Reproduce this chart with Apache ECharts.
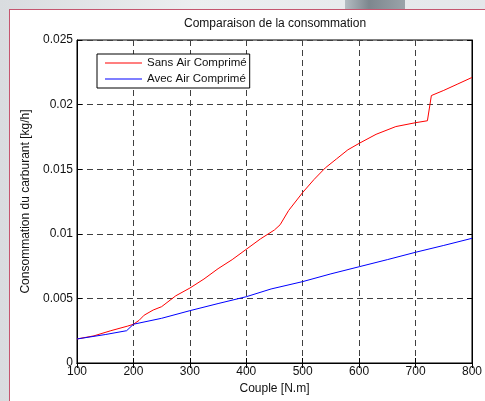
<!DOCTYPE html>
<html>
<head>
<meta charset="utf-8">
<script src="https://cdn.jsdelivr.net/npm/echarts@6/dist/echarts.min.js"></script>
<style>
html, body {
	margin: 0;
	padding: 0;
	width: 485px;
	height: 401px;
	overflow: hidden;
	background: linear-gradient(90deg, #d9dcdf 0%, #eceef0 40%, #e4e7ea 100%);
	position: relative;
}
.band {
	position: absolute;
	left: 345px;
	top: 0;
	width: 60px;
	height: 10px;
	background: linear-gradient(90deg, #b4bcc2, #7d878e 40%, #9aa3a9);
}
.fig {
	position: absolute;
	left: 9px;
	top: 9px;
	right: -2px;
	bottom: -2px;
	background: #fff;
	border: 1px solid #c4566f;
}
#chart {
	position: absolute;
	left: 0;
	top: 0;
	width: 485px;
	height: 401px;
}
</style>
</head>
<body>
<div class="band"></div>
<div class="fig"></div>
<div id="chart"></div>
<script>
// couple [N.m] / consommation [kg/h]
const sansTorque = [100, 130, 160, 190, 200, 210, 219, 235, 250, 275, 300, 325, 350, 375, 400, 425, 450, 460, 475, 500, 520, 540, 560, 580, 600, 630, 665, 700, 721, 728, 750, 775, 800];
const sansConso = [0.00186, 0.0021, 0.0025, 0.00286, 0.0030, 0.0033, 0.0037, 0.0041, 0.00436, 0.0052, 0.0058, 0.0065, 0.0073, 0.0080, 0.0088, 0.0096, 0.0103, 0.0107, 0.0118, 0.0132, 0.0142, 0.0151, 0.0158, 0.0165, 0.0170, 0.0177, 0.0183, 0.0186, 0.01875, 0.0207, 0.0211, 0.0216, 0.0221];

const avecTorque = [100, 150, 188, 200, 250, 300, 350, 400, 444, 500, 550, 600, 650, 700, 750, 800];
const avecConso = [0.00186, 0.0022, 0.0025, 0.0030, 0.00346, 0.00405, 0.0046, 0.00513, 0.00573, 0.0063, 0.0069, 0.00745, 0.0080, 0.00857, 0.0091, 0.00965];

const seriesNames = ['Sans Air Comprimé', 'Avec Air Comprimé'];
const FONT = '"Liberation Sans", Arial, sans-serif';

const zip = (xs, ys) => xs.map((x, i) => [x, ys[i]]);

const chart = echarts.init(document.getElementById('chart'));

const gridLine = {
	show: true,
	lineStyle: {
		color: '#404040',
		width: 1,
		type: [6, 4]
	}
};

const option = {
	animation: false,
	backgroundColor: 'transparent',
	textStyle: {fontFamily: FONT},
	title: {
		text: 'Comparaison de la consommation',
		left: 184,
		top: 18,
		padding: 0,
		textStyle: {
			fontFamily: FONT,
			fontSize: 12,
			fontWeight: 'normal',
			color: '#111'
		}
	},
	legend: {
		data: seriesNames,
		orient: 'vertical',
		left: 97,
		top: 54,
		padding: [3, 3, 3, 8],
		itemGap: 4,
		itemWidth: 37,
		itemHeight: 1,
		icon: 'rect',
		borderColor: '#000',
		borderWidth: 1,
		backgroundColor: '#fff',
		textStyle: {
			fontFamily: FONT,
			fontSize: 11.5,
			color: '#111'
		}
	},
	grid: {
		left: 77,
		right: 9,
		top: 40,
		bottom: 38,
		show: true,
		backgroundColor: '#fff',
		borderColor: '#000',
		borderWidth: 1
	},
	xAxis: [{
		type: 'value',
		min: 100,
		max: 800,
		interval: 100,
		name: 'Couple [N.m]',
		nameLocation: 'middle',
		nameGap: 20,
		nameTextStyle: {fontFamily: FONT, fontSize: 12, color: '#111'},
		axisLine: {lineStyle: {color: '#000'}},
		axisTick: {inside: true, length: 5, lineStyle: {color: '#000'}},
		axisLabel: {margin: 3, fontFamily: FONT, fontSize: 12, color: '#111'},
		splitLine: gridLine
	}, {
		type: 'value',
		position: 'top',
		min: 100,
		max: 800,
		interval: 100,
		axisLine: {lineStyle: {color: '#000'}},
		axisTick: {inside: true, length: 5, lineStyle: {color: '#000'}},
		axisLabel: {show: false},
		splitLine: {show: false}
	}],
	yAxis: [{
		type: 'value',
		min: 0,
		max: 0.025,
		interval: 0.005,
		name: 'Consommation du carburant [kg/h]',
		nameLocation: 'middle',
		nameGap: 41,
		nameTextStyle: {fontFamily: FONT, fontSize: 12, color: '#111'},
		axisLine: {show: true, lineStyle: {color: '#000'}},
		axisTick: {show: true, inside: true, length: 5, lineStyle: {color: '#000'}},
		axisLabel: {margin: 4, fontFamily: FONT, fontSize: 12, color: '#111'},
		splitLine: gridLine
	}, {
		type: 'value',
		position: 'right',
		min: 0,
		max: 0.025,
		interval: 0.005,
		axisLine: {show: true, lineStyle: {color: '#000'}},
		axisTick: {show: true, inside: true, length: 5, lineStyle: {color: '#000'}},
		axisLabel: {show: false},
		splitLine: {show: false}
	}],
	series: [{
		name: seriesNames[0],
		type: 'line',
		showSymbol: false,
		data: zip(sansTorque, sansConso),
		itemStyle: {color: '#ff0000'},
		lineStyle: {color: '#ff0000', width: 1}
	}, {
		name: seriesNames[1],
		type: 'line',
		showSymbol: false,
		data: zip(avecTorque, avecConso),
		itemStyle: {color: '#0000ff'},
		lineStyle: {color: '#0000ff', width: 1}
	}]
};

chart.setOption(option);
</script>
</body>
</html>
